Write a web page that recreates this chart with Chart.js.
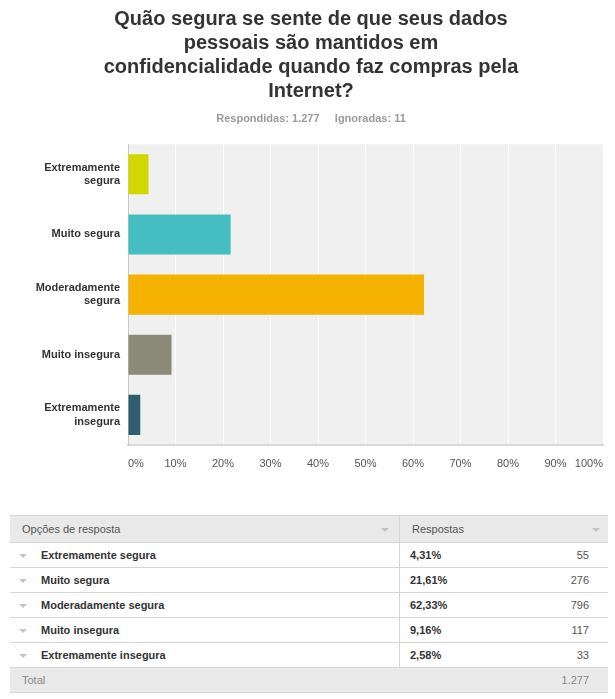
<!DOCTYPE html>
<html>
<head>
<meta charset="utf-8">
<script src="https://cdn.jsdelivr.net/npm/chart.js@4"></script>
<style>
  body { margin: 0; background: #fff; font-family: "Liberation Sans", Arial, sans-serif; }
  #wrap { position: relative; width: 615px; height: 699px; }
  #chart { position: absolute; left: 0; top: 0; }
  table { position: absolute; left: 10px; top: 515px; width: 598px; border-collapse: collapse; font-size: 11px; color: #333; }
  td { height: 24px; border-top: 1px solid #d6d6d6; border-bottom: 1px solid #d6d6d6; padding: 0; }
  tr.head td { background: #e9e9e9; color: #555; height: 26px; }
  tr.total td { background: #e9e9e9; color: #888; }
  td.div { border-right: 1px solid #d6d6d6; }
  .arr { display: inline-block; width: 0; height: 0; border-left: 4px solid transparent; border-right: 4px solid transparent; border-top: 4px solid #c4c4c4; vertical-align: middle; }
  .lbl { font-weight: bold; }
  .cnt { color: #555; }
</style>
</head>
<body>
<div id="wrap">
  <canvas id="chart" width="615" height="490"></canvas>
  <table id="tbl"></table>
</div>
<script>
// Data
const categories = [['Extremamente', 'segura'], 'Muito segura', ['Moderadamente', 'segura'], 'Muito insegura', ['Extremamente', 'insegura']];
const optionNames = ['Extremamente segura', 'Muito segura', 'Moderadamente segura', 'Muito insegura', 'Extremamente insegura'];
const percentages = [4.31, 21.61, 62.33, 9.16, 2.58];
const responses = [55, 276, 796, 117, 33];
const barColors = ['#d2d700', '#45bec2', '#f6b200', '#8b8a78', '#2f5e6d'];
const totalAnswered = '1.277';
const totalSkipped = '11';

const fmtPct = v => v.toFixed(2).replace('.', ',') + '%';

// gray plot background
const plotBg = {
  id: 'plotBg',
  beforeDraw(chart) {
    const a = chart.chartArea, ctx = chart.ctx;
    ctx.save();
    ctx.fillStyle = '#eff0ef';
    ctx.fillRect(a.left, a.top, a.right - a.left, a.bottom - a.top);
    ctx.restore();
  }
};

new Chart(document.getElementById('chart').getContext('2d'), {
  type: 'bar',
  data: {
    labels: categories,
    datasets: [{
      data: percentages,
      backgroundColor: barColors,
      borderWidth: 0,
      barPercentage: 0.667,
      categoryPercentage: 1
    }]
  },
  options: {
    indexAxis: 'y',
    responsive: false,
    animation: false,
    layout: { padding: { left: 15, right: 8, top: 0, bottom: 0 } },
    plugins: {
      legend: { display: false },
      tooltip: { enabled: false },
      title: {
        display: true,
        text: ['Quão segura se sente de que seus dados', 'pessoais são mantidos em', 'confidencialidade quando faz compras pela', 'Internet?'],
        color: '#333',
        font: { family: 'Liberation Sans', size: 20, weight: 'bold', lineHeight: 1.2 },
        padding: { top: 7, bottom: 9 }
      },
      subtitle: {
        display: true,
        text: 'Respondidas: ' + totalAnswered + '     Ignoradas: ' + totalSkipped,
        color: '#9a9a9a',
        font: { family: 'Liberation Sans', size: 11, weight: 'bold', lineHeight: 1.2 },
        padding: { top: 0, bottom: 19 }
      }
    },
    scales: {
      x: {
        min: 0,
        max: 100,
        ticks: {
          stepSize: 10,
          align: 'inner',
          padding: 12,
          color: '#555',
          font: { family: 'Liberation Sans', size: 11 },
          callback: v => v + '%'
        },
        grid: { color: '#ffffff', lineWidth: 1, drawTicks: false },
        border: { display: true, color: '#d9d9d9', width: 2 },
        afterFit: s => { s.height = 45; }
      },
      y: {
        ticks: {
          padding: 8,
          color: '#333',
          font: { family: 'Liberation Sans', size: 11, weight: 'bold', lineHeight: 1.2 }
        },
        grid: { display: false, drawTicks: false },
        border: { display: true, color: '#c8c8c8', width: 1 },
        afterFit: s => { s.width = 113; }
      }
    }
  },
  plugins: [plotBg]
});

// response table
const tbl = document.getElementById('tbl');
let html = '<tr class="head"><td class="div" style="padding-left:12px">Opções de resposta<span class="arr" style="float:right;margin-right:10px;margin-top:5px"></span></td>' +
  '<td colspan="2" style="padding-left:12px">Respostas<span class="arr" style="float:right;margin-right:8px;margin-top:5px"></span></td></tr>';
optionNames.forEach((name, i) => {
  html += '<tr><td class="div" style="width:389px"><span class="arr" style="margin:0 14px 0 9px"></span><span class="lbl">' + name + '</span></td>' +
    '<td class="lbl" style="padding-left:10px">' + fmtPct(percentages[i]) + '</td>' +
    '<td style="text-align:right;padding-right:19px"><span class="cnt">' + responses[i] + '</span></td></tr>';
});
html += '<tr class="total"><td style="padding-left:12px">Total</td><td></td><td style="text-align:right;padding-right:19px">' + totalAnswered + '</td></tr>';
tbl.innerHTML = html;
</script>
</body>
</html>
